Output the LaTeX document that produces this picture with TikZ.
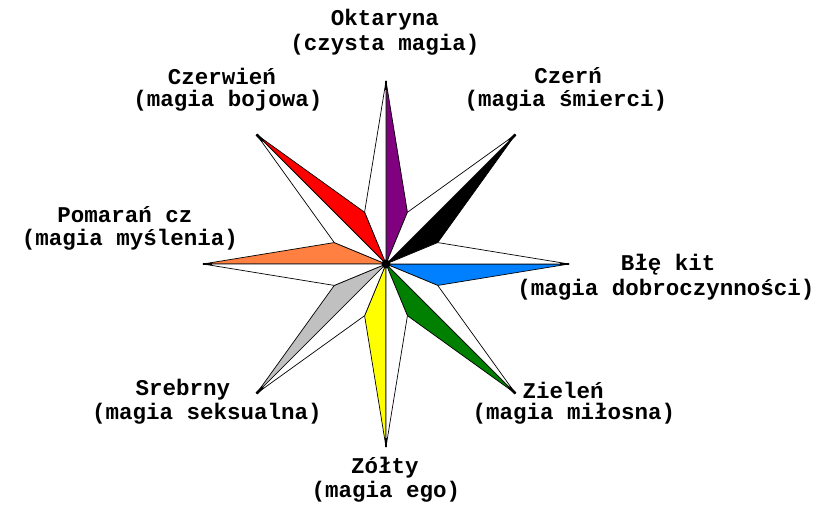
\documentclass[tikz,border=0pt]{standalone}
\usepackage{fontspec}
\setmonofont{Liberation Mono}

\definecolor{oktarynacol}{RGB}{128,0,128}
\definecolor{blekitcol}{RGB}{0,128,255}
\definecolor{zielencol}{RGB}{0,128,0}
\definecolor{zoltycol}{RGB}{255,255,0}
\definecolor{srebrnycol}{RGB}{192,192,192}
\definecolor{pomarańczcol}{RGB}{255,128,64}
\definecolor{czerwiencol}{RGB}{255,0,0}

\begin{document}
\begin{tikzpicture}[x=1pt, y=1pt, line width=0.7pt, line join=round,
    magictext/.style={font=\ttfamily\bfseries\fontsize{22.5}{25}\selectfont, inner sep=0pt}]

    \useasboundingbox (0,0) rectangle (832,509);
    \coordinate (C) at (386,245);
    \def\outr{183}
    \def\innr{56}

    \begin{scope}[shift={(C)}]
      % colored half on the clockwise side of each point
      \foreach \ang/\col in {90/oktarynacol, 45/black, 0/blekitcol, -45/zielencol,
                             -90/zoltycol, -135/srebrnycol, 180/pomarańczcol, 135/czerwiencol} {
        \filldraw[fill=\col] (0,0) -- (\ang:\outr) -- (\ang-22.5:\innr) -- cycle;
        \filldraw[fill=white] (0,0) -- (\ang:\outr) -- (\ang+22.5:\innr) -- cycle;
        \draw[line width=2.6pt] (\ang:\outr-9) -- (\ang:\outr);
      }
      \fill (0,0) circle (4.5);
    \end{scope}

    \foreach \nm/\x/\y/\txt in {okt/385/489/Oktaryna, czerwien/222/433/Czerwień,
        czern/568/433/Czerń, pomarancz/125/294/Pomarań cz, blekit/668/244/Błę kit,
        srebrny/183/119/Srebrny, zielen/563/119/Zieleń, zolty/385/41/Zółty} {
      \node[magictext] (\nm) at (\x,\y) {\txt};
    }

    \foreach \nm/\x/\y/\txt in {okt/385/464/{(czysta magia)}, czerwien/228/408/{(magia bojowa)},
        czern/566/408/{(magia śmierci)}, pomarancz/130/269/{(magia myślenia)},
        blekit/666/219/{(magia dobroczynności)}, srebrny/207/95/{(magia seksualna)},
        zielen/574/95/{(magia miłosna)}, zolty/386/17/{(magia ego)}} {
      \node[magictext] (\nm-sub) at (\x,\y) {\txt};
    }

\end{tikzpicture}
\end{document}
